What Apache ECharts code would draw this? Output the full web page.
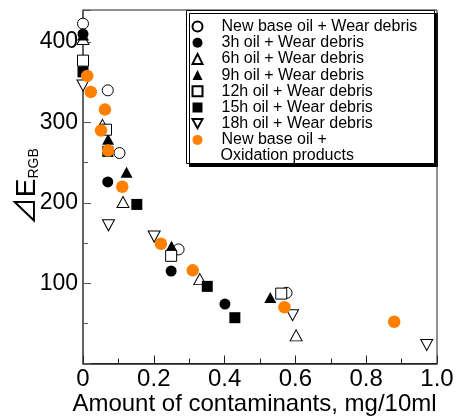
<!DOCTYPE html>
<html>
<head>
<meta charset="utf-8">
<script src="https://cdn.jsdelivr.net/npm/echarts@6/dist/echarts.min.js"></script>
<style>
  html, body { margin: 0; padding: 0; background: #fff; }
  #main { width: 457px; height: 416px; }
</style>
</head>
<body>
<div id="main"></div>
<script>
// 数据：[污染物含量 mg/10ml, ΔE_RGB]
const seriesNames = [
    'New base oil + Wear debris',
    '3h oil + Wear debris',
    '6h oil + Wear debris',
    '9h oil + Wear debris',
    '12h oil + Wear debris',
    '15h oil + Wear debris',
    '18h oil + Wear debris',
    'New base oil + Oxidation products'
];
const newOilWear = [[0, 423], [0.07, 340], [0.103, 262], [0.27, 142], [0.575, 88]];
const oil3hWear = [[0, 410], [0.07, 226], [0.249, 115], [0.401, 74]];
const oil6hWear = [[0, 404], [0.055, 297], [0.113, 201], [0.33, 105], [0.602, 35]];
const oil9hWear = [[0, 409], [0.071, 279], [0.123, 238], [0.25, 146], [0.529, 82]];
const oil12hWear = [[0, 377], [0.065, 291], [0.249, 134], [0.56, 87]];
const oil15hWear = [[0, 363], [0.07, 264], [0.152, 198], [0.351, 96], [0.429, 57]];
const oil18hWear = [[0, 346], [0.072, 172], [0.201, 158], [0.592, 60], [0.971, 23]];
const newOilOxid = [[0.012, 358], [0.022, 338], [0.062, 316], [0.051, 290], [0.071, 265],
    [0.111, 220], [0.22, 149], [0.31, 116], [0.569, 70], [0.879, 52]];

const font = "'Liberation Sans', Arial, 'Noto Sans CJK JP', sans-serif";

const openStyle = {color: '#fff', borderColor: '#000', borderWidth: 1, opacity: 1};
const fillStyle = {color: '#000', opacity: 1};
// 倒三角
const downTriangle = 'path://M0,0L12,0L6,11Z';

function sc(name, data, symbol, style, size) {
    return {
        name: name,
        type: 'scatter',
        data: data,
        symbol: symbol,
        symbolSize: size,
        itemStyle: style,
        emphasis: {disabled: true}
    };
}

const chart = echarts.init(document.getElementById('main'));
chart.setOption({
    animation: false,
    grid: {
        left: 83, top: 10, right: 20, bottom: 52.5,
        outerBoundsMode: 'none',
        containLabel: false,
        show: true, borderColor: '#222', borderWidth: 1
    },
    xAxis: {
        type: 'value',
        min: 0, max: 1.0, interval: 0.2,
        name: 'Amount of contaminants, mg/10ml',
        nameLocation: 'middle',
        nameGap: 29,
        nameMoveOverlap: false,
        nameTextStyle: {fontSize: 24, color: '#000', fontFamily: font, padding: [0, 11, 0, 0]},
        axisLine: {lineStyle: {color: '#222', width: 1.5}},
        axisTick: {inside: true, length: 8, lineStyle: {color: '#222'}},
        minorTick: {show: true, splitNumber: 2, length: 5, lineStyle: {color: '#222'}},
        axisLabel: {
            fontSize: 24, color: '#000', fontFamily: font, margin: 4,
            formatter: v => v === 0 ? '0' : v.toFixed(1)
        },
        splitLine: {show: false}
    },
    yAxis: {
        type: 'value',
        min: 0, max: 440, interval: 100,
        name: '{a|⊿E}{b|RGB}',
        nameLocation: 'middle',
        nameGap: 42,
        nameMoveOverlap: false,
        nameTextStyle: {
            color: '#000',
            rich: {
                a: {fontSize: 28, lineHeight: 28, fontFamily: font, color: '#000'},
                b: {fontSize: 14, lineHeight: 14, fontFamily: font, color: '#000', verticalAlign: 'bottom'}
            }
        },
        axisLine: {lineStyle: {color: '#555', width: 1.5}},
        axisTick: {inside: true, length: 8, lineStyle: {color: '#555'}},
        minorTick: {show: true, splitNumber: 2, length: 5, lineStyle: {color: '#555'}},
        axisLabel: {
            fontSize: 23, color: '#000', fontFamily: font, margin: 5,
            showMinLabel: false,
            formatter: v => (v % 100 === 0 && v > 0) ? String(v) : ''
        },
        splitLine: {show: false}
    },
    legend: {
        orient: 'vertical',
        left: 191.5, top: 18.5,
        padding: 0,
        itemWidth: 10, itemHeight: 10, itemGap: 0.2,
        selectedMode: false,
        textStyle: {fontSize: 16, lineHeight: 16, color: '#000', fontFamily: font, padding: [0, 0, 0, 14]},
        formatter: name => name === seriesNames[7] ? 'New base oil +' : name,
        data: seriesNames
    },
    graphic: [
        {
            type: 'rect', left: 186, top: 10, z: -1,
            shape: {width: 248, height: 153},
            style: {fill: '#fff', stroke: '#000', lineWidth: 1,
                shadowColor: '#000', shadowOffsetX: 3, shadowOffsetY: 3, shadowBlur: 0}
        },
        {
            type: 'text', left: 220.5, top: 148,
            style: {text: 'Oxidation products', fontSize: 16, fontFamily: font, fill: '#000'}
        }
    ],
    series: [
        sc(seriesNames[0], newOilWear, 'circle', openStyle, 11),
        sc(seriesNames[1], oil3hWear, 'circle', fillStyle, 11),
        sc(seriesNames[2], oil6hWear, 'triangle', openStyle, [12, 11]),
        sc(seriesNames[3], oil9hWear, 'triangle', fillStyle, [12, 11]),
        sc(seriesNames[4], oil12hWear, 'rect', openStyle, 11),
        sc(seriesNames[5], oil15hWear, 'rect', fillStyle, 11),
        sc(seriesNames[6], oil18hWear, downTriangle, openStyle, [12, 11]),
        sc(seriesNames[7], newOilOxid, 'circle', {color: '#ff8000', opacity: 1}, 12.5)
    ]
});
</script>
</body>
</html>
